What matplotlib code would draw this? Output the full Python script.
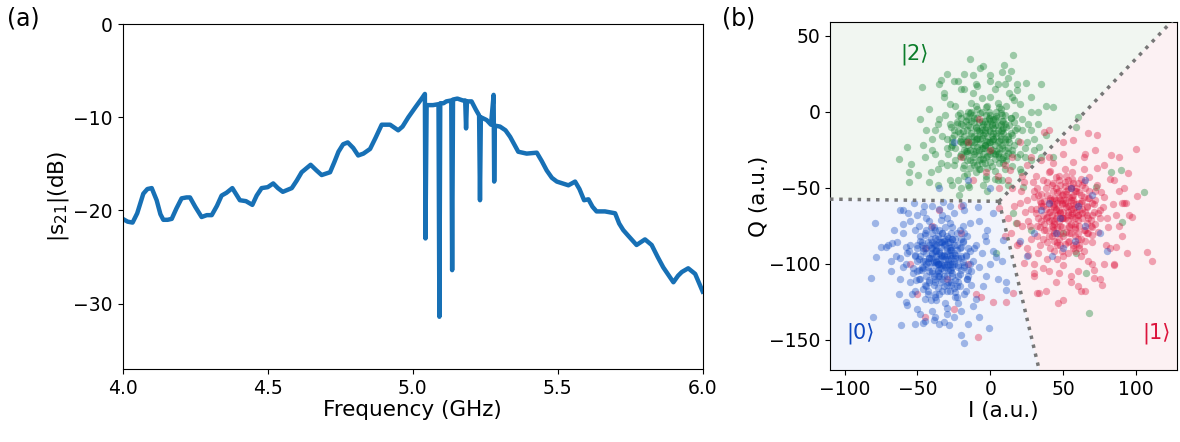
import matplotlib
matplotlib.use("Agg")
import matplotlib.pyplot as plt
from matplotlib.patches import Polygon

# ---- panel (a): transmission spectrum ----
freq = [4.000, 4.017, 4.034, 4.050, 4.071, 4.085, 4.100, 4.117, 4.130, 4.140, 4.155, 4.169,
        4.185, 4.203, 4.220, 4.232, 4.250, 4.272, 4.290, 4.307, 4.325, 4.341, 4.358, 4.378,
        4.392, 4.404, 4.425, 4.447, 4.462, 4.479, 4.500, 4.519, 4.535, 4.552, 4.583, 4.600,
        4.617, 4.648, 4.668, 4.686, 4.715, 4.730, 4.744, 4.760, 4.776, 4.795, 4.812, 4.830,
        4.853, 4.872, 4.893, 4.922, 4.950, 4.965, 4.985, 5.010, 5.031,
        5.042, 5.044, 5.048, 5.070, 5.089, 5.092, 5.095, 5.106, 5.116, 5.133, 5.136, 5.139,
        5.154, 5.173, 5.181, 5.184, 5.187, 5.203, 5.218, 5.229, 5.232, 5.235, 5.255, 5.270,
        5.279, 5.281, 5.283, 5.301, 5.320, 5.336, 5.350, 5.364, 5.393, 5.428, 5.445, 5.462,
        5.480, 5.497, 5.537, 5.560, 5.575, 5.591, 5.606, 5.620, 5.634, 5.663, 5.698, 5.712,
        5.726, 5.743, 5.772, 5.801, 5.824, 5.845, 5.864, 5.899, 5.915, 5.928, 5.950, 5.974,
        5.985, 6.000]
s21 = [-20.9, -21.2, -21.3, -20.3, -18.2, -17.7, -17.6, -18.9, -20.4, -21.0, -21.0, -20.9,
       -19.8, -18.7, -18.6, -18.6, -19.6, -20.7, -20.5, -20.5, -19.5, -18.4, -18.1, -17.6,
       -18.3, -18.9, -19.0, -19.4, -18.4, -17.6, -17.5, -17.1, -17.6, -18.0, -17.6, -16.8,
       -15.9, -15.1, -15.7, -16.2, -15.9, -14.8, -13.7, -12.9, -12.7, -13.3, -14.1, -13.9,
       -13.4, -12.2, -10.8, -10.8, -11.4, -11.0, -10.0, -8.9, -8.0,
       -7.5, -23.0, -8.7, -8.7, -8.6, -31.4, -8.5, -8.5, -8.3, -8.2, -26.4, -8.1,
       -8.0, -8.2, -8.2, -11.2, -8.3, -8.3, -9.2, -9.8, -18.9, -10.0, -10.3, -10.8,
       -7.6, -16.9, -10.9, -11.0, -11.4, -12.1, -12.9, -13.7, -13.9, -13.8, -14.7, -15.7,
       -16.5, -16.9, -17.3, -16.9, -17.7, -18.9, -18.8, -19.6, -20.1, -20.1, -20.3, -21.4,
       -22.1, -22.7, -23.7, -23.1, -23.7, -25.0, -26.1, -27.7, -27.0, -26.6, -26.2, -26.8,
       -27.6, -28.7]

# ---- panel (b): single-shot IQ readout ----
# cloud prepared in |2>
i2 = [-5, -10, 0, -15, 5, -8, 2, -20, 8, -12, -3, 10, -18, -25, 12, -6, 3, -14, 7, -22,
      15, -1, -9, 4, -16, -4, 6, -11, 14, -26, -2, 9, -19, 1, -7, 17, -28, 11, -13, -24,
      -4, 3, -17, 8, -8, 13, -21, -1, 5, -10, 18, 2, -30, 0, -15, 10, -6, 2, -12, 6, -3,
      -7, -2, -11, 1, -16, 4, -9, -5, 7, -13, 0, -20, 11, -6, -3,
      -30, -35, -32, -20, -10, 5, 15, 22, 25, 20, 8, -5, -18, -28, -40, -38, -25, 12, 20, 28,
      -42, -36, -15, 3, 24, -30, 0, 18, -45, 30,
      15.3, -13.9, -7.1, -18.3, -33.6, -47.0, 9.6, 14.2, 24.4, 34.7, 27.9, 38.1, 42.7, 32.4,
      -57.3, -63.0, -54.3, -55.5, -55.5, -49.8, -41.8, -36.1, -21.2, -14.4, 59.8, 58.7,
      38.1, 33.6, 42.7, 105.5, 89.5, 82.6, 67.8, 65.5, 58.7, 17.6, 3.9, 90.6,
      27.9, 49.5, 15.3, 72.4, 22.1]
q2 = [-15, -10, -20, -18, -12, -25, -5, -8, -22, -2, -30, -8, -25, -15, -18, 0, -28, -32, 2,
      -2, -25, -12, -18, -16, -12, -6, -30, -28, -4, -22, 4, -14, -30, -36, -38, -12, -8,
      -32, 6, -32, -22, -9, -20, -2, -32, -20, -14, -26, 6, -40, -30, -18, -18, 10, 0, -38,
      -10, -18, -22, -24, -2, -14, -20, -16, -8, -26, -4, -12, -24, -18, -6, -28, -20, -10,
      -34, -44,
      -35, -5, 10, 15, 18, 18, 10, -5, -20, -38, -45, -48, -42, -45, -25, -12, 20, 22, 5,
      -12, 2, -38, -48, -44, -30, 25, 24, 18, -30, -25,
      37.3, 34.4, 28.5, 24.8, 20.8, 16.0, 30.7, 27.0, 18.6, 18.2, 9.9, 3.7, 3.3, 0.0,
      -23.0, -31.1, -34.6, -39.5, -46.1, -41.7, -46.1, -48.2, -54.8, -49.3, -3.3, -9.9,
      -15.4, -23.0, -29.6, -52.6, -38.4, -39.5, -132.7, -106.4, -93.2, -73.5, -93.2, -72.4,
      -77.9, -80.0, -66.9, -49.3, -49.3]
core2 = [(-2, -16), (-7, -21), (1, -9), (-13, -14), (6, -19), (-9, -4), (4, -26), (-17, -6),
         (9, -11), (-11, -35), (-5, -28), (12, -27), (-21, -19), (-27, -10), (16, -7), (-3, 3),
         (0, -33), (-19, -37), (11, 4), (-24, 4), (19, -19), (-8, -13), (-14, -25), (7, -8),
         (-29, -28), (-1, -4), (3, -39), (-16, -41), (15, -36), (-33, -16), (-6, 9), (10, -2),
         (-22, -45), (5, -45), (-12, 12), (20, -28), (-31, -2), (13, 12), (-18, 15), (-34, -34),
         (-10, -18), (-4, -24), (-15, -9), (2, -14), (-7, -31), (8, -24), (-20, -28), (-26, -20),
         (14, -14), (-9, 2), (0, -2), (-12, -30), (17, -2), (-23, -8), (-3, -42), (6, -34),
         (-16, -19), (4, 0), (-11, -7), (9, -30), (-6, -17), (1, -25), (-14, -1), (-19, -13),
         (10, -18), (-2, -8), (-8, -38), (7, -13), (-25, -35), (-30, -24), (22, -12), (-36, -8),
         (-28, 5), (-9, 17), (3, 15), (16, 8), (24, -24), (21, -40), (-38, -28), (-40, -18),
         (-32, 12), (-22, 20), (0, 20), (10, 18), (26, -8), (28, -32), (-44, -12), (-46, -22),
         (-35, 18), (-12, 24), (8, 26), (18, 14), (30, -18), (-48, -5), (-41, -40), (33, -8),
         (35, -30), (-5, 30), (-20, -50), (12, -48), (-2, -52), (28, 0), (-26, -48), (3, -5),
         (-4, -12), (-13, -20), (-1, -20), (5, -28), (-17, -26), (8, -6), (-10, -26), (-21, -1),
         (-6, -6)]
dense2 = [(-4, -14), (-9, -17), (2, -11), (-14, -10), (7, -16), (-6, -24), (0, -6), (-18, -16),
          (10, -20), (-11, -4), (-2, -29), (13, -9), (-16, -27), (-22, -13), (4, -3), (-7, -1),
          (6, -27), (-12, -33), (15, -15), (-20, -4), (-3, -19), (1, -16), (-10, -11), (9, -6),
          (-15, -22), (-5, -8), (3, -22), (-8, -28), (12, -24), (-24, -24), (-1, 0), (8, -12),
          (-19, -9), (-4, -34), (16, -22), (-13, -16), (5, -9), (-26, -17), (-9, -23), (11, -29),
          (-17, -3), (0, -24), (-6, -12), (3, -31), (-21, -29), (7, -1), (-11, -20), (14, -4),
          (-3, -10), (-14, -37), (9, -34), (-23, -7), (1, -19), (-8, -7), (-16, -32), (4, -14),
          (-2, -37), (18, -11), (-27, -23), (-10, 4), (6, 3), (-19, -21), (-5, -31), (12, -16),
          (-12, -26), (0, -13), (-7, -18), (10, -25), (-15, -5), (2, -27), (-25, -12), (-1, -5),
          (-9, -35), (15, -28), (-18, -35), (5, -20), (-13, 0), (8, -31), (-4, -22), (-20, -18)]

# cloud prepared in |1>
i1 = [52, 45, 58, 40, 62, 48, 55, 35, 66, 42, 50, 70, 38, 30, 60, 53, 46, 64, 33, 57, 44,
      72, 28, 49, 61, 39, 68, 54, 36, 75, 47, 58, 25, 65, 41, 78, 51, 32, 70, 56, 43, 63,
      37, 59, 26, 73, 50, 45, 67, 34, 55, 62, 29, 80, 48, 40, 64, 53, 46, 58,
      51, 47, 56, 44, 60, 42, 54, 49, 57, 52, 43, 61, 48, 55, 50,
      20, 22, 25, 30, 40, 55, 70, 82, 88, 90, 85, 78, 65, 50, 35, 22, 15, 18, 45, 75, 92,
      28, 60, 85, 95, 12, 38, 72, 10, 50,
      99.8, 73.5, 66.7, 88.4, 83.1, 94.5, 97.5, 100.9, 92.9, 107.8, 110.7, 93.6, 86.1,
      84.9, 76.5, 71.2, 65.1, 49.5, 46.1, 33.6, 31.7, 30.1, 15.3, 10.7, 1.6, -8.7, -6.4,
      19.9, 23.3, 37.0, 40.4, 56.4, 5.7, 5.7, 13.7,
      -15, 0, -8, 10, -20, 5, 15, -3, 20, 12, 25, -12,
      -45, -30, -20, -50, -25, -40, -15, -55, -35, -10, -45, -20]
q1 = [-63, -58, -70, -66, -55, -75, -50, -60, -68, -48, -82, -60, -78, -52, -80, -45, -68,
      -46, -70, -60, -85, -74, -64, -55, -88, -55, -52, -76, -45, -65, -42, -92, -58, -78,
      -90, -56, -70, -82, -86, -40, -62, -64, -74, -52, -72, -48, -95, -50, -70, -88, -58,
      -95, -46, -70, -88, -40, -38, -66, -80, -74,
      -60, -65, -56, -72, -68, -58, -62, -70, -64, -54, -76, -60, -66, -68, -58,
      -60, -75, -90, -100, -105, -108, -100, -90, -75, -60, -45, -35, -28, -28, -32, -42,
      -50, -88, -112, -110, -50, -30, -115, -100, -68, -70, -118, -25, -82, -20,
      -24.8, -15.4, -13.8, -29.6, -28.5, -40.6, -69.1, -55.5, -60.3, -92.1, -98.0, -93.2,
      -88.8, -100.9, -114.0, -109.6, -118.0, -123.9, -126.1, -119.5, -119.5, -106.4,
      -119.5, -125.0, -125.0, -148.0, -121.7, -86.6, -99.8, -13.2, -12.1, -18.6, -50.4,
      -63.6, -38.4,
      -20, -25, -5, -35, -30, -42, -30, -40, -20, -45, -35, -45,
      -90, -110, -80, -120, -130, -75, -100, -100, -65, -120, -135, -62]
core1 = [(50, -66), (44, -61), (57, -55), (47, -72), (60, -68), (41, -57), (54, -80), (38, -64),
         (63, -59), (48, -48), (58, -77), (35, -54), (66, -63), (43, -78), (52, -52), (69, -71),
         (31, -67), (46, -86), (62, -84), (40, -72), (56, -44), (72, -58), (36, -84), (53, -71),
         (65, -50), (30, -56), (49, -60), (61, -75), (44, -92), (74, -79), (27, -75), (57, -90),
         (39, -46), (68, -43), (51, -38), (77, -63), (33, -93), (64, -92), (46, -53), (55, -64),
         (42, -68), (59, -61), (37, -59), (66, -80), (48, -80), (71, -66), (34, -76), (53, -86),
         (45, -43), (60, -47), (28, -84), (76, -53), (50, -101), (39, -97), (67, -98), (81, -76),
         (24, -66), (57, -33), (43, -34), (73, -37), (84, -61), (21, -52), (31, -42), (79, -88),
         (60, -105), (36, -103), (86, -68), (18, -73), (47, -106), (71, -104), (26, -94),
         (88, -52), (55, -112), (64, -30), (40, -30), (82, -44), (16, -62), (23, -46), (52, -58),
         (49, -70), (56, -67), (45, -65), (61, -64), (54, -75), (47, -57), (58, -52), (42, -82),
         (63, -70), (51, -49), (38, -70), (67, -57), (44, -74), (59, -87), (35, -62), (70, -76),
         (53, -93), (32, -50), (75, -70), (46, -97), (41, -39), (90, -82), (14, -80), (30, -108),
         (78, -100), (92, -60), (62, -118)]
dense1 = [(53, -62), (48, -67), (57, -58), (44, -63), (60, -71), (50, -54), (46, -76), (62, -60),
          (41, -58), (55, -74), (39, -69), (65, -66), (51, -46), (58, -82), (43, -52), (68, -57),
          (36, -62), (47, -84), (64, -78), (55, -49), (42, -75), (70, -68), (33, -55), (59, -66),
          (49, -61), (45, -70), (61, -53), (52, -79), (38, -50), (66, -73), (54, -56), (40, -82),
          (71, -61), (47, -45), (57, -88), (35, -72), (63, -48), (50, -70), (44, -57), (60, -84),
          (31, -64), (67, -80), (53, -51), (41, -66), (58, -63), (46, -88), (72, -52), (37, -78),
          (56, -69), (49, -76), (64, -56), (43, -47), (61, -90), (34, -59), (69, -75), (52, -42),
          (45, -64), (59, -50), (39, -86), (66, -62), (48, -58), (55, -80), (42, -71), (74, -67),
          (51, -87), (36, -68), (62, -44), (47, -52), (58, -76), (44, -80), (65, -85), (53, -68),
          (40, -61), (57, -47), (49, -92), (70, -81), (32, -75), (63, -67), (46, -60), (54, -85)]

# cloud prepared in |0>
i0 = [-33, -40, -28, -36, -25, -45, -30, -20, -38, -48, -22, -35, -42, -15, -30, -52, -26,
      -18, -44, -37, -24, -32, -50, -40, -12, -28, -46, -34, -20, -55, -38, -23, -42, -30,
      -16, -48, -35, -27, -58, -10, -44, -31, -19, -52, -36, -24, -41, -29, -13, -47, -33,
      -21, -39, -56, -26, -43, -17, -32, -49, -37,
      -34, -29, -38, -31, -27, -42, -35, -25, -40, -30, -36, -33, -28, -44, -32,
      -60, -62, -58, -50, -38, -25, -12, -5, 0, -3, -8, -18, -50, -65, -55, -40, -28, -45,
      -8, 2, -68, -63, 5, -15, -35, -2, -60, -52, 8, -70,
      -17.8, -20.1, -0.7, -28.1, -31.5, -38.4, -46.3, -61.2, -80.6, -81.7, -78.3, -74.9,
      -71.5, -67.4, -79.0, -66.4, -62.3, -56.6, -52.1, -45.2, -32.6, -18.9, -8.7, 1.6,
      8.4, 3.9, 10.7, 10.7,
      40, 55, 65, 48, 60, 70, 45, 58, 35, 75, 50, 65, 30, 42, 80, 20, 25,
      -25, -15, 0, -35]
q0 = [-95, -90, -100, -105, -88, -98, -82, -95, -112, -85, -108, -78, -105, -90, -118, -95,
      -76, -102, -115, -88, -96, -108, -105, -80, -98, -90, -92, -100, -84, -88, -122, -115,
      -72, -70, -110, -110, -92, -104, -100, -88, -78, -126, -75, -118, -84, -122, -96,
      -112, -105, -102, -68, -90, -108, -92, -84, -120, -118, -85, -75, -98,
      -94, -98, -92, -102, -96, -88, -106, -100, -94, -90, -100, -86, -94, -100, -104,
      -80, -110, -125, -130, -135, -135, -128, -115, -100, -85, -72, -65, -68, -95, -72,
      -62, -62, -138, -135, -92, -105, -120, -110, -140, -140, -78, -65, -140, -98, -88,
      -152.4, -146.9, -142.5, -140.4, -138.2, -137.1, -139.3, -140.4, -134.9, -109.6,
      -95.4, -88.8, -88.8, -86.6, -73.5, -77.9, -64.7, -66.9, -60.3, -62.1, -59.2, -61.4,
      -62.5, -66.9, -84.4, -95.4, -111.8, -117.3,
      -60, -50, -75, -70, -62, -55, -80, -85, -65, -80, -90, -45, -80, -95, -92, -85, -95,
      -20, -45, -50, -50]
core0 = [(-31, -97), (-37, -92), (-26, -102), (-40, -99), (-29, -86), (-44, -93), (-23, -91),
         (-35, -108), (-47, -88), (-20, -104), (-38, -83), (-42, -111), (-17, -95), (-32, -115),
         (-50, -98), (-27, -80), (-22, -112), (-46, -117), (-34, -86), (-25, -98), (-36, -104),
         (-53, -103), (-39, -76), (-14, -100), (-30, -92), (-48, -95), (-33, -101), (-19, -86),
         (-57, -93), (-41, -124), (-24, -119), (-44, -70), (-28, -73), (-13, -114), (-51, -111),
         (-37, -95), (-26, -108), (-60, -102), (-11, -90), (-45, -81), (-30, -129), (-21, -78),
         (-54, -120), (-38, -87), (-22, -126), (-43, -99), (-27, -114), (-15, -108), (-49, -104),
         (-34, -71), (-23, -88), (-40, -106), (-58, -89), (-28, -86), (-45, -123), (-18, -120),
         (-33, -80), (-52, -78), (-36, -100), (-8, -102), (-62, -96), (-30, -133), (-16, -82),
         (-55, -112), (-40, -131), (-6, -93), (-64, -86), (-20, -131), (-46, -66), (-35, -64),
         (-10, -123), (-57, -127), (-25, -67), (-3, -108), (-68, -98), (-48, -133), (-14, -73),
         (-60, -74), (-4, -82), (-32, -94), (-36, -97), (-29, -104), (-41, -90), (-24, -94),
         (-39, -114), (-31, -84), (-46, -103), (-19, -99), (-35, -120), (-27, -91), (-43, -86),
         (-22, -101), (-50, -90), (-33, -110), (-38, -101), (-26, -84), (-42, -96), (-30, -100),
         (-34, -89)]
dense0 = [(-32, -95), (-37, -99), (-28, -91), (-40, -93), (-26, -100), (-35, -86), (-43, -102),
          (-22, -96), (-30, -108), (-46, -90), (-24, -84), (-38, -110), (-18, -101), (-33, -80),
          (-49, -97), (-27, -112), (-41, -84), (-20, -89), (-36, -116), (-44, -108), (-29, -97),
          (-34, -103), (-39, -88), (-25, -93), (-47, -104), (-31, -87), (-21, -107), (-42, -96),
          (-35, -93), (-17, -94), (-50, -88), (-28, -118), (-38, -78), (-23, -80), (-45, -114),
          (-32, -101), (-26, -106), (-40, -105), (-15, -104), (-48, -82), (-34, -112), (-19, -85),
          (-37, -91), (-29, -83), (-43, -118), (-24, -111), (-52, -94), (-31, -76), (-39, -99),
          (-22, -102), (-36, -108), (-46, -98), (-27, -89), (-33, -118), (-14, -92), (-41, -76),
          (-30, -94), (-44, -90), (-25, -116), (-53, -106), (-35, -100), (-20, -96), (-38, -120),
          (-28, -104), (-47, -86), (-32, -88), (-23, -122), (-42, -112), (-16, -110), (-36, -82),
          (-30, -114), (-49, -110), (-26, -94), (-40, -86), (-34, -96), (-21, -115), (-45, -80),
          (-29, -101), (-37, -124), (-18, -80)]

# decision boundaries (meeting point and far ends)
b_left = (-130, -57.3)
b_mid = (6, -59)
b_up = (140, 75)
b_down = (36, -180)

blue = '#0d47c1'
red = '#dc143c'
green = '#0b7d2a'

plt.rcParams['font.family'] = ['DejaVu Sans']
fig = plt.figure(figsize=(11.8, 4.42), dpi=100)

ax1 = fig.add_axes([0.104, 0.1652, 0.4915, 0.7805])
ax1.plot(freq, s21, color='#1770b5', lw=3.2, solid_joinstyle='round')
ax1.set_xlim(4.0, 6.0)
ax1.set_ylim(-37, 0)
ax1.set_xticks([4.0, 4.5, 5.0, 5.5, 6.0])
ax1.set_yticks([0, -10, -20, -30])
ax1.tick_params(labelsize=13.5)
ax1.set_xlabel('Frequency (GHz)', fontsize=15.5, labelpad=2)
ax1.set_ylabel('|s$_{21}$|(dB)', fontsize=15.5, labelpad=2)
fig.text(0.006, 0.985, '(a)', fontsize=17, va='top')

ax2 = fig.add_axes([0.7034, 0.163, 0.294, 0.787])
ax2.add_patch(Polygon([b_left, b_mid, b_up, (b_left[0], b_up[1])], closed=True,
                      fc='#f1f6f1', ec='none', zorder=0))
ax2.add_patch(Polygon([b_mid, b_up, (b_up[0], b_down[1]), b_down], closed=True,
                      fc='#fcf1f3', ec='none', zorder=0))
ax2.add_patch(Polygon([b_left, b_mid, b_down, (b_left[0], b_down[1])], closed=True,
                      fc='#f1f4fc', ec='none', zorder=0))

kw = dict(s=28, alpha=0.37, linewidths=0, zorder=2)
clouds = ((i2, q2, core2 + dense2, green),
          (i1, q1, core1 + dense1, red),
          (i0, q0, core0 + dense0, blue))
for ii, qq, core, col in clouds:
    ci, cq = zip(*core)
    ax2.scatter(list(ii) + list(ci), list(qq) + list(cq), color=col, **kw)

for p in (b_left, b_up, b_down):
    ax2.plot([b_mid[0], p[0]], [b_mid[1], p[1]], color='#777777', lw=2.5,
             linestyle=':', zorder=3)

ax2.text(-62, 38, '|2⟩', color=green, fontsize=15, va='center')
ax2.text(-99, -146, '|0⟩', color=blue, fontsize=15, va='center')
ax2.text(104, -146, '|1⟩', color=red, fontsize=15, va='center')

ax2.set_xlim(-110, 128)
ax2.set_ylim(-170, 59)
ax2.set_xticks([-100, -50, 0, 50, 100])
ax2.set_yticks([50, 0, -50, -100, -150])
ax2.tick_params(labelsize=13.5)
ax2.set_xlabel('I (a.u.)', fontsize=15.5, labelpad=2)
ax2.set_ylabel('Q (a.u.)', fontsize=15.5, labelpad=0)
fig.text(0.612, 0.985, '(b)', fontsize=17, va='top')

fig.savefig('out.png', dpi=100)
